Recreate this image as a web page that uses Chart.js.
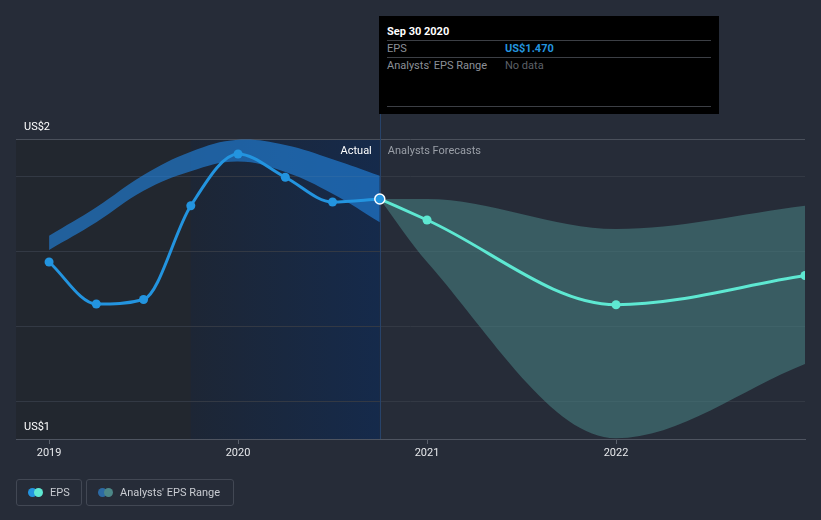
<!DOCTYPE html>
<html>
<head>
<meta charset="utf-8">
<script src="https://cdn.jsdelivr.net/npm/chart.js@4"></script>
<style>
  body { margin: 0; width: 821px; height: 520px; overflow: hidden; position: relative; background: #262c38; font-family: Roboto, "Noto Sans", sans-serif; }
  #chart { position: absolute; left: 0; top: 0; }
  .tip { position: absolute; left: 379px; top: 16px; width: 340px; height: 98px; background: #000; font-size: 11px; }
  .tip div { position: absolute; white-space: nowrap; }
  .tip .sep { left: 8px; width: 324px; height: 1px; background: #3c3f45; }
  .legend { position: absolute; top: 479px; height: 25px; border: 1px solid #424854; border-radius: 3px; font-size: 11px; color: #c9ccd2; }
  .legend .dot { position: absolute; top: 8px; width: 9px; height: 9px; border-radius: 50%; }
  .legend span { position: absolute; top: 6px; white-space: nowrap; }
</style>
</head>
<body>
<canvas id="chart" width="821" height="520"></canvas>

<div class="tip">
  <div style="left:8px;top:9px;color:#fff;font-weight:bold;">Sep 30 2020</div>
  <div class="sep" style="top:24px;"></div>
  <div style="left:8px;top:26px;color:#8c9098;">EPS</div>
  <div style="left:126px;top:26px;color:#2394df;font-weight:bold;">US$1.470</div>
  <div class="sep" style="top:41px;"></div>
  <div style="left:8px;top:43px;color:#8c9098;">Analysts' EPS Range</div>
  <div style="left:126px;top:43px;color:#5d6168;">No data</div>
  <div class="sep" style="top:90px;"></div>
</div>

<div class="legend" style="left:16px;width:64px;">
  <div class="dot" style="left:11px;background:#2394df;"></div>
  <div class="dot" style="left:17px;background:#5ee8d2;"></div>
  <span style="left:33px;">EPS</span>
</div>
<div class="legend" style="left:86px;width:146px;">
  <div class="dot" style="left:11px;background:#2c6aa3;"></div>
  <div class="dot" style="left:17px;background:#4c8787;"></div>
  <span style="left:33px;">Analysts' EPS Range</span>
</div>

<script>
// 実績 EPS（四半期）
const epsDates = [2019.0, 2019.25, 2019.5, 2019.75, 2020.0, 2020.25, 2020.5, 2020.75];
const epsValues = [1.386, 1.330, 1.336, 1.461, 1.530, 1.499, 1.466, 1.470];
const pastHigh = [1.421, 1.459, 1.502, 1.533, 1.549, 1.542, 1.523, 1.501];
const pastLow = [1.402, 1.439, 1.481, 1.507, 1.520, 1.506, 1.477, 1.439];

// アナリスト予想
const forecastDates = [2020.75, 2021.0, 2022.0, 2023.0];
const forecastValues = [1.470, 1.442, 1.329, 1.368];
const forecastHigh = [1.470, 1.470, 1.430, 1.461];
const forecastLow = [1.470, 1.386, 1.151, 1.250];

// 軸
const xTicks = [2019, 2020, 2021, 2022];
const xMin = 2018.825;
const xMax = 2023.0;
const yTicks = [1.15, 1.2, 1.3, 1.4, 1.5, 1.55];
const yTickLabels = ['US$1', '', '', '', '', 'US$2'];
const pastYearStart = 2019.75;
const nowDate = 2020.75;

function toPoints(dates, values) {
    return dates.map((d, i) => ({ x: d, y: values[i] }));
}

// 背景の塗り分けと「現在」の縦線
const shading = {
    id: 'shading',
    beforeDraw(chart) {
        const { ctx, chartArea: a, scales: { x } } = chart;
        const x1 = x.getPixelForValue(pastYearStart);
        const x2 = x.getPixelForValue(nowDate);
        ctx.save();
        ctx.fillStyle = '#22272f';
        ctx.fillRect(a.left, a.top, x1 - a.left, a.bottom - a.top);
        const g = ctx.createLinearGradient(x1, 0, x2, 0);
        g.addColorStop(0, '#1d2635');
        g.addColorStop(1, '#152a4b');
        ctx.fillStyle = g;
        ctx.fillRect(x1, a.top, x2 - x1, a.bottom - a.top);
        ctx.restore();
    },
    beforeDatasetsDraw(chart) {
        const { ctx, chartArea: a, scales: { x } } = chart;
        const xn = Math.round(x.getPixelForValue(nowDate)) + 0.5;
        ctx.save();
        ctx.strokeStyle = '#27436a';
        ctx.lineWidth = 1;
        ctx.beginPath();
        ctx.moveTo(xn, 114);
        ctx.lineTo(xn, a.bottom);
        ctx.stroke();
        ctx.restore();
    },
    afterDraw(chart) {
        const { ctx, chartArea: a, scales: { x } } = chart;
        const xn = x.getPixelForValue(nowDate);
        ctx.save();
        ctx.font = '11px Roboto';
        ctx.textBaseline = 'middle';
        ctx.textAlign = 'right';
        ctx.fillStyle = '#ffffff';
        ctx.fillText('Actual', xn - 8, a.top + 12);
        ctx.textAlign = 'left';
        ctx.fillStyle = '#9a9fa7';
        ctx.fillText('Analysts Forecasts', xn + 8, a.top + 12);
        ctx.restore();
    }
};

const lastIdx = epsValues.length - 1;

new Chart(document.getElementById('chart'), {
    type: 'line',
    data: {
        datasets: [
            {
                label: 'EPS',
                data: toPoints(epsDates, epsValues),
                borderColor: '#2394df',
                borderWidth: 3,
                backgroundColor: '#2394df',
                pointRadius: epsValues.map((v, i) => i === lastIdx ? 5 : 4.5),
                pointBorderWidth: epsValues.map((v, i) => i === lastIdx ? 1.5 : 0),
                pointBorderColor: '#ffffff',
                pointBackgroundColor: '#2394df',
                cubicInterpolationMode: 'monotone',
                fill: false
            },
            {
                label: 'Forecast',
                data: toPoints(forecastDates, forecastValues),
                borderColor: '#5ee8d2',
                borderWidth: 3,
                pointRadius: forecastValues.map((v, i) => i === 0 ? 0 : 4.5),
                pointBorderWidth: 0,
                pointBackgroundColor: '#5ee8d2',
                cubicInterpolationMode: 'monotone',
                fill: false
            },
            {
                label: 'pastHigh',
                data: toPoints(epsDates, pastHigh),
                borderWidth: 0,
                borderColor: 'rgba(0,0,0,0)',
                pointRadius: 0,
                tension: 0.4,
                backgroundColor: 'rgba(33,135,230,0.6)',
                fill: '+1'
            },
            {
                label: 'pastLow',
                data: toPoints(epsDates, pastLow),
                borderWidth: 0,
                borderColor: 'rgba(0,0,0,0)',
                pointRadius: 0,
                tension: 0.4,
                fill: false
            },
            {
                label: 'forecastHigh',
                data: toPoints(forecastDates, forecastHigh),
                borderWidth: 0,
                borderColor: 'rgba(0,0,0,0)',
                pointRadius: 0,
                cubicInterpolationMode: 'monotone',
                backgroundColor: 'rgba(76,140,140,0.5)',
                fill: '+1'
            },
            {
                label: 'forecastLow',
                data: toPoints(forecastDates, forecastLow),
                borderWidth: 0,
                borderColor: 'rgba(0,0,0,0)',
                pointRadius: 0,
                cubicInterpolationMode: 'monotone',
                fill: false
            }
        ]
    },
    options: {
        responsive: false,
        animation: false,
        events: [],
        layout: { padding: { left: 16, right: 16, top: 139, bottom: 0 } },
        plugins: {
            legend: { display: false },
            tooltip: { enabled: false }
        },
        scales: {
            x: {
                type: 'linear',
                min: xMin,
                max: xMax,
                afterBuildTicks: s => { s.ticks = xTicks.map(v => ({ value: v })); },
                afterFit: s => { s.height = 81; },
                grid: { drawOnChartArea: false, drawTicks: true, tickLength: 5, color: '#5a606b' },
                border: { color: '#4e5460' },
                ticks: {
                    autoSkip: false,
                    maxRotation: 0,
                    padding: 3,
                    color: '#e6e8eb',
                    font: { family: 'Roboto', size: 11 },
                    callback: v => String(v)
                }
            },
            y: {
                min: 1.15,
                max: 1.55,
                afterBuildTicks: s => { s.ticks = yTicks.map(v => ({ value: v })); },
                afterFit: s => { s.width = 0; },
                grid: {
                    drawTicks: false,
                    color: c => c.index === yTicks.length - 1 ? '#4a505b' : (c.index === 0 ? 'rgba(0,0,0,0)' : '#333944')
                },
                border: { display: false },
                ticks: {
                    mirror: true,
                    padding: 8,
                    labelOffset: -12,
                    color: '#ffffff',
                    font: { family: 'Roboto', size: 11 },
                    callback: (v, i) => yTickLabels[i]
                }
            }
        }
    },
    plugins: [shading]
});
</script>
</body>
</html>
